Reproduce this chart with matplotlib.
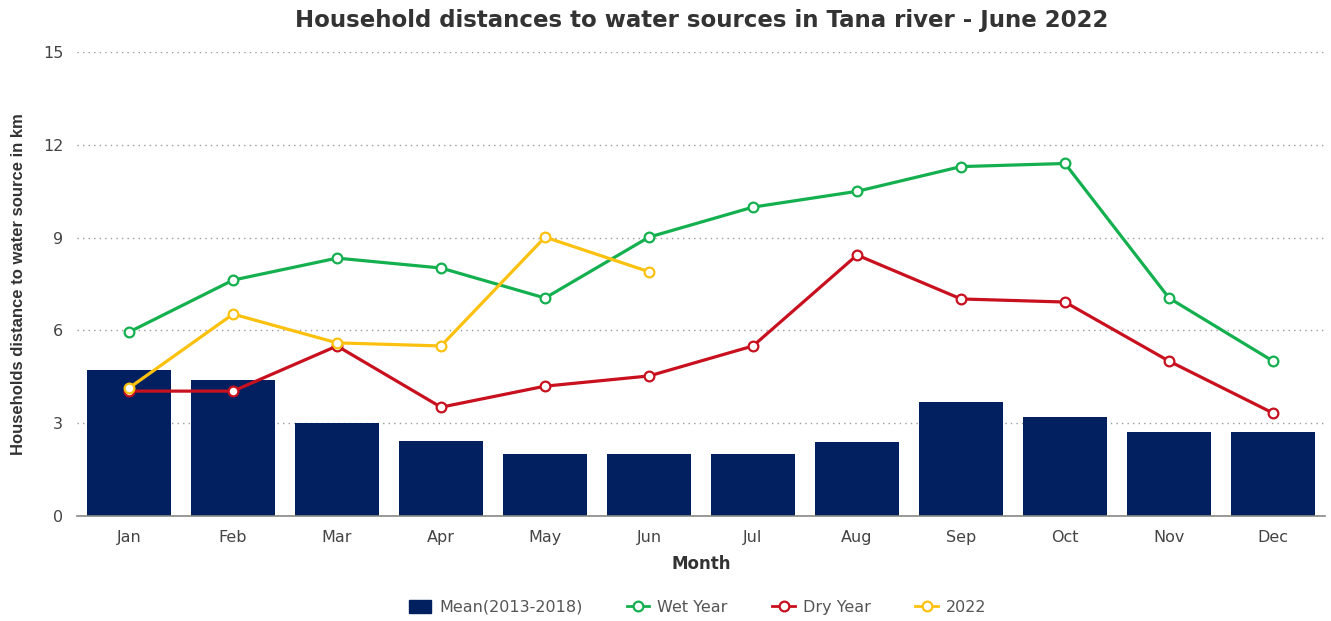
import matplotlib
matplotlib.use("Agg")
import matplotlib.pyplot as plt
from matplotlib.lines import Line2D
from matplotlib.patches import Patch

months = ["Jan", "Feb", "Mar", "Apr", "May", "Jun", "Jul", "Aug", "Sep", "Oct", "Nov", "Dec"]
mean_2013_2018 = [4.72, 4.4, 3.0, 2.42, 2.0, 2.0, 2.0, 2.4, 3.69, 3.2, 2.72, 2.72]
wet_year = [5.95, 7.63, 8.34, 8.02, 7.05, 9.02, 9.99, 10.5, 11.3, 11.4, 7.05, 5.01]
dry_year = [4.04, 4.04, 5.5, 3.52, 4.2, 4.53, 5.5, 8.44, 7.02, 6.92, 5.01, 3.33]
y2022 = [4.14, 6.53, 5.6, 5.5, 9.02, 7.9]
yticks = [0, 3, 6, 9, 12, 15]

c_bar = "#022060"
c_wet = "#14b04f"
c_dry = "#c8101e"
c_2022 = "#fcc10f"

plt.rcParams['font.family'] = ['DejaVu Sans']

fig = plt.figure(figsize=(13.31, 6.21), dpi=100)
ax = fig.add_axes([0.0579, 0.169, 0.9376, 0.747])

x = list(range(len(months)))
ax.bar(x, mean_2013_2018, width=0.8, color=c_bar, zorder=2)

def line(vals, color):
    ax.plot(range(len(vals)), vals, color=color, lw=2.3, marker='o', ms=7,
            mfc='white', mec=color, mew=1.6, zorder=3)

line(wet_year, c_wet)
line(dry_year, c_dry)
line(y2022, c_2022)

ax.set_xlim(-0.5, 11.5)
ax.set_ylim(0, 15)
ax.set_yticks(yticks)
ax.set_xticks(x)
ax.set_xticklabels(months)
ax.yaxis.grid(True, linestyle=(0, (1, 3)), color="#9a9a9a", lw=1, zorder=0)
ax.tick_params(axis='both', length=0, labelsize=11.5, colors="#444444", pad=10)
for s in ["top", "right", "left"]:
    ax.spines[s].set_visible(False)
ax.spines["bottom"].set_color("#888888")
ax.spines["bottom"].set_linewidth(1.2)

ax.set_xlabel("Month", fontsize=12, fontweight='bold', color="#333333", labelpad=7)
ax.set_ylabel("Households distance to water source in km", fontsize=12, fontweight='bold',
              color="#333333", labelpad=12, family=['Liberation Sans', 'DejaVu Sans'])
fig.suptitle("Household distances to water sources in Tana river - June 2022", x=0.527, y=0.985,
             fontsize=16.5, fontweight='bold', color="#333333")

handles = [
    Patch(facecolor=c_bar, edgecolor=c_bar, label="Mean(2013-2018)"),
    Line2D([], [], color=c_wet, lw=2, marker='o', ms=7, mfc='white', mec=c_wet, mew=1.6, label="Wet Year"),
    Line2D([], [], color=c_dry, lw=2, marker='o', ms=7, mfc='white', mec=c_dry, mew=1.6, label="Dry Year"),
    Line2D([], [], color=c_2022, lw=2, marker='o', ms=7, mfc='white', mec=c_2022, mew=1.6, label="2022"),
]
leg = fig.legend(handles=handles, loc='center', bbox_to_anchor=(0.524, 0.022), ncol=4, frameon=False,
                 fontsize=11.5, handlelength=1.4, handleheight=0.9, columnspacing=2.8, handletextpad=0.5)
for t in leg.get_texts():
    t.set_color("#555555")

fig.savefig("out.png", dpi=100)
